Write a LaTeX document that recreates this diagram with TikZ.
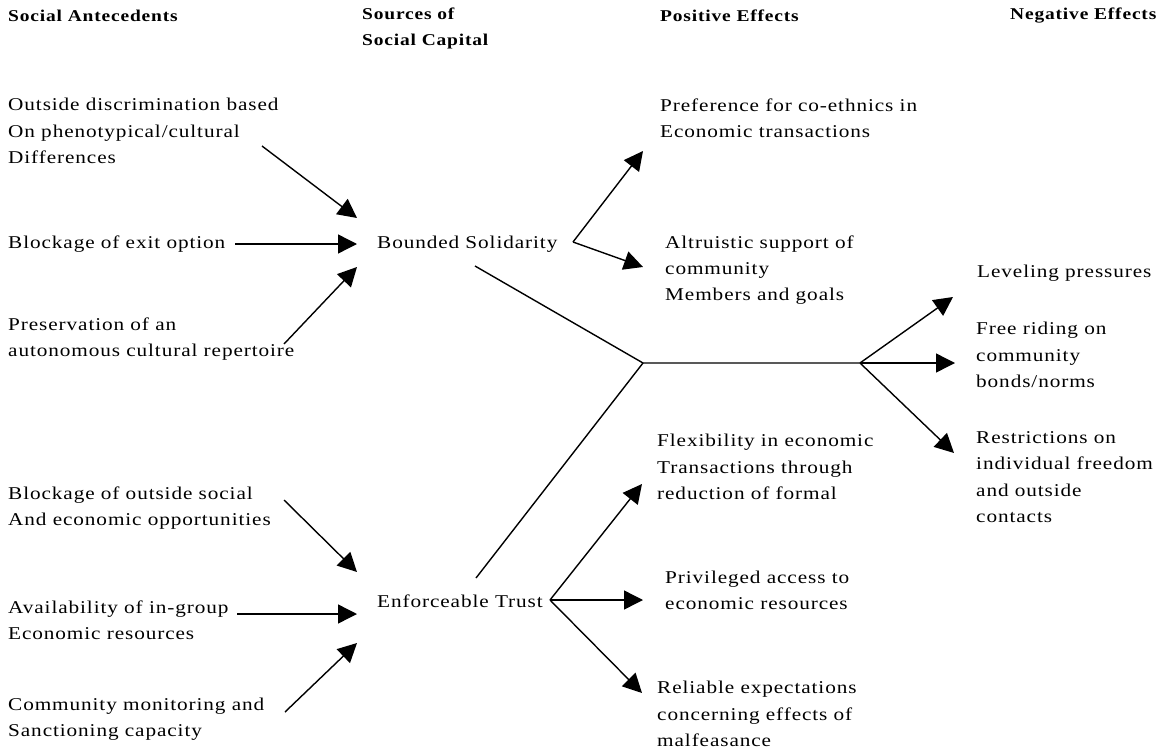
\documentclass[tikz,border=0pt]{standalone}
\usepackage{fontspec}
\setmainfont{Liberation Serif}[FakeStretch=1.18,LetterSpace=5]
\usetikzlibrary{arrows.meta}
\tikzset{
  txt/.style={anchor=west,inner sep=0pt,align=left,font=\fontsize{18}{26.3}\selectfont},
  hdr/.style={anchor=west,inner sep=0pt,align=left,font=\fontsize{16.5}{26}\selectfont\bfseries},
  conn/.style={line width=1.4pt},
  arr/.style={conn,-{Triangle[length=19pt,width=19pt]}}
}
\begin{document}
\begin{tikzpicture}[x=1pt,y=-1pt]
\useasboundingbox (0,0) rectangle (1167,749);
% headers
\node[hdr] (h1) at (8,16) {Social Antecedents};
\node[hdr] (h2) at (362,28) {Sources of\\Social Capital};
\node[hdr] (h3) at (660,16) {Positive Effects};
\node[hdr] (h4) at (1010,16) {Negative Effects};
% antecedents
\node[txt] (a1) at (8,131) {Outside discrimination based\\On phenotypical/cultural\\Differences};
\node[txt] (a2) at (8,244) {Blockage of exit option};
\node[txt] (a3) at (8,339) {Preservation of an\\autonomous cultural repertoire};
\node[txt] (a4) at (8,508) {Blockage of outside social\\And economic opportunities};
\node[txt] (a5) at (8,620) {Availability of in-group\\Economic resources};
\node[txt] (a6) at (8,719) {Community monitoring and\\Sanctioning capacity};
% sources
\node[txt] (bs) at (377,244) {Bounded Solidarity};
\node[txt] (et) at (377,601) {Enforceable Trust};
% positive
\node[txt] (p1) at (660,118) {Preference for co-ethnics in\\Economic transactions};
\node[txt] (p2) at (665,270) {Altruistic support of\\community\\Members and goals};
\node[txt] (p3) at (657,467) {Flexibility in economic\\Transactions through\\reduction of formal};
\node[txt] (p4) at (665,590) {Privileged access to\\economic resources};
\node[txt] (p5) at (657,714) {Reliable expectations\\concerning effects of\\malfeasance};
% negative
\node[txt] (n1) at (977,273) {Leveling pressures};
\node[txt] (n2) at (976,355) {Free riding on\\community\\bonds/norms};
\node[txt] (n3) at (976,477) {Restrictions on\\individual freedom\\and outside\\contacts};
% coordinates
\coordinate (a1s) at (262,146);
\coordinate (bsi1) at (357,218);
\coordinate (a2s) at (235,244);
\coordinate (bsi2) at (357,244);
\coordinate (a3s) at (284,344);
\coordinate (bsi3) at (357,267);
\coordinate (a4s) at (284,500);
\coordinate (eti1) at (357,572);
\coordinate (a5s) at (237,614);
\coordinate (eti2) at (357,614);
\coordinate (a6s) at (285,712);
\coordinate (eti3) at (357,643);
\coordinate (bsv) at (573,242);
\coordinate (p1t) at (643,151);
\coordinate (p2t) at (643,267);
\coordinate (bsd) at (475,266);
\coordinate (J) at (643,363);
\coordinate (K) at (860,363);
\coordinate (n1t) at (953,297);
\coordinate (n2t) at (955,363);
\coordinate (n3t) at (954,453);
\coordinate (etu) at (476,578);
\coordinate (etv) at (550,600);
\coordinate (p3t) at (642,484);
\coordinate (p4t) at (643,600);
\coordinate (p5t) at (642,693);
% connectors
\draw[arr] (a1s) -- (bsi1);
\draw[arr] (a2s) -- (bsi2);
\draw[arr] (a3s) -- (bsi3);
\draw[arr] (a4s) -- (eti1);
\draw[arr] (a5s) -- (eti2);
\draw[arr] (a6s) -- (eti3);
\draw[arr] (bsv) -- (p1t);
\draw[arr] (bsv) -- (p2t);
\draw[conn] (bsd) -- (J) -- (K);
\draw[conn] (etu) -- (J);
\draw[arr] (K) -- (n1t);
\draw[arr] (K) -- (n2t);
\draw[arr] (K) -- (n3t);
\draw[arr] (etv) -- (p3t);
\draw[arr] (etv) -- (p4t);
\draw[arr] (etv) -- (p5t);
\end{tikzpicture}
\end{document}
